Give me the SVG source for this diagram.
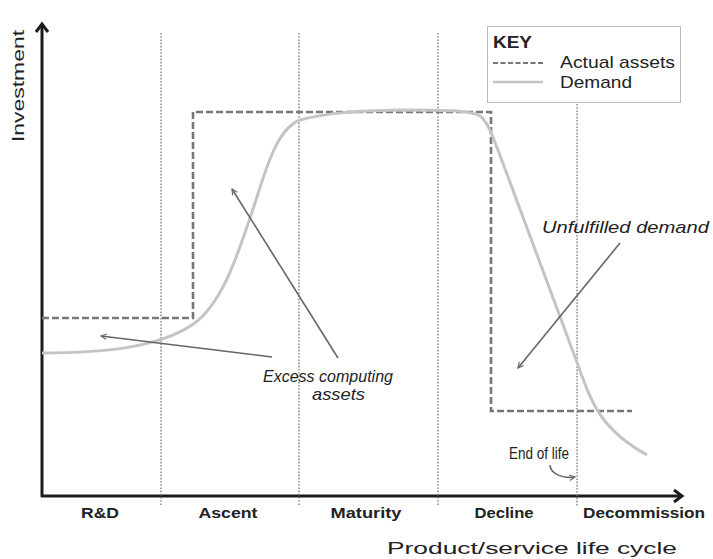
<svg xmlns="http://www.w3.org/2000/svg" width="713" height="559" viewBox="0 0 713 559">
<style>
.axis{stroke:#1c1c1c;stroke-width:3;fill:none}
.div{stroke:#777;stroke-width:1.3;stroke-dasharray:1.6 1.6;fill:none}
.assets{stroke:#777;stroke-width:2.6;stroke-dasharray:7 3;fill:none}
.demand{stroke:#c4c4c4;stroke-width:3;fill:none}
.arr{stroke:#666;stroke-width:1.6;fill:none}
.phase{font-family:"Liberation Sans",Arial,sans-serif;font-weight:bold;font-size:15px;fill:#222}
.lbl{font-family:"Liberation Sans",Arial,sans-serif;font-size:17px;fill:#222}
.ital{font-family:"Liberation Sans",Arial,sans-serif;font-style:italic;font-size:17px;fill:#222}
</style>
<defs>
<marker id="ah" viewBox="0 0 10 10" refX="9" refY="5" markerWidth="7" markerHeight="7" orient="auto" markerUnits="userSpaceOnUse">
<path d="M1,1 L9,5 L1,9" stroke="#666" stroke-width="1.6" fill="none"/>
</marker>
</defs>
<g id="axes">
<line class="axis" x1="42" y1="497" x2="42" y2="24"/>
<polyline class="axis" points="36,32 42,24 48,32"/>
<line class="axis" x1="41" y1="496" x2="681" y2="496"/>
<polyline class="axis" points="674,490 682,496 674,502"/>
</g>
<g id="dividers">
<line class="div" x1="161" y1="33" x2="161" y2="506"/>
<line class="div" x1="299" y1="33" x2="299" y2="506"/>
<line class="div" x1="438" y1="33" x2="438" y2="506"/>
<line class="div" x1="577" y1="104" x2="577" y2="506"/>
</g>
<g id="actual-assets">
<polyline class="assets" points="42,318 193,318 193,112 491,112 491,411 632,411"/>
</g>
<g id="demand">
<path class="demand" d="M42,353 C110,353 160,346 192,325 C222,305 238,255 256,200 C270,155 280,128 300,120 C330,112 360,111 400,110 C440,110 470,110 480,116 C488,122 492,135 498,150 L578,365 C592,405 602,430 647,455"/>
</g>
<g id="key">
<rect x="487.5" y="26.5" width="193" height="76" fill="#fff" stroke="#bbb" stroke-width="1"/>
<text x="493" y="48" font-family="Liberation Sans,Arial,sans-serif" font-weight="bold" font-size="16" fill="#222" textLength="39" lengthAdjust="spacingAndGlyphs">KEY</text>
<line x1="493" y1="63" x2="543" y2="63" stroke="#777" stroke-width="2" stroke-dasharray="5 2.5"/>
<line x1="493" y1="82" x2="543" y2="82" stroke="#c4c4c4" stroke-width="2.5"/>
<text class="lbl" x="560" y="68" font-size="18" textLength="115" lengthAdjust="spacingAndGlyphs">Actual assets</text>
<text class="lbl" x="560" y="88" font-size="18" textLength="72" lengthAdjust="spacingAndGlyphs">Demand</text>
</g>
<g id="connectors">
<line class="arr" x1="272" y1="357" x2="101" y2="336" marker-end="url(#ah)"/>
<line class="arr" x1="338" y1="358" x2="232" y2="189" marker-end="url(#ah)"/>
<line class="arr" x1="620" y1="243" x2="518" y2="368" marker-end="url(#ah)"/>
<path class="arr" d="M550,465 C550,472 560,479 575,477" marker-end="url(#ah)"/>
</g>
<g id="annotations">
<text class="ital" x="263" y="382" textLength="130" lengthAdjust="spacingAndGlyphs">Excess computing</text>
<text class="ital" x="312" y="400" textLength="53" lengthAdjust="spacingAndGlyphs">assets</text>
<text class="ital" x="542" y="233" textLength="167" lengthAdjust="spacingAndGlyphs">Unfulfilled demand</text>
<text class="lbl" x="509" y="459" font-size="17" textLength="60" lengthAdjust="spacingAndGlyphs">End of life</text>
</g>
<g id="phases">
<text class="phase" x="100" y="518" text-anchor="middle" textLength="38" lengthAdjust="spacingAndGlyphs">R&amp;D</text>
<text class="phase" x="228" y="518" text-anchor="middle" textLength="59" lengthAdjust="spacingAndGlyphs">Ascent</text>
<text class="phase" x="366" y="518" text-anchor="middle" textLength="71" lengthAdjust="spacingAndGlyphs">Maturity</text>
<text class="phase" x="504" y="518" text-anchor="middle" textLength="59" lengthAdjust="spacingAndGlyphs">Decline</text>
<text class="phase" x="644" y="518" text-anchor="middle" textLength="122" lengthAdjust="spacingAndGlyphs">Decommission</text>
</g>
<g id="axis-titles">
<text class="lbl" x="387" y="554" font-size="20" textLength="290" lengthAdjust="spacingAndGlyphs">Product/service life cycle</text>
<text class="lbl" transform="translate(24,142) rotate(-90)" x="0" y="0" font-size="20" textLength="112" lengthAdjust="spacingAndGlyphs">Investment</text>
</g>
</svg>
